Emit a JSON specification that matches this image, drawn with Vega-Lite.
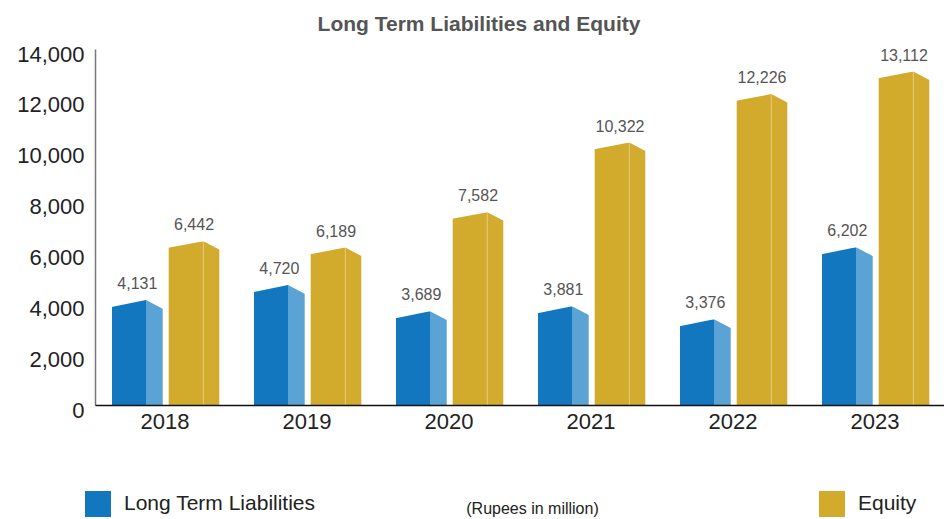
{
  "$schema": "https://vega.github.io/schema/vega-lite/v6.json",
  "width": 852,
  "height": 356,
  "autosize": "none",
  "padding": {"left": 95, "top": 49, "right": 0, "bottom": 114},
  "background": "white",
  "config": {
    "font": "Liberation Sans",
    "view": {"stroke": null}
  },
  "title": {
    "text": "Long Term Liabilities and Equity",
    "fontSize": 21,
    "fontWeight": "bold",
    "color": "#555555",
    "anchor": "middle",
    "frame": "group",
    "dx": -42,
    "baseline": "alphabetic",
    "offset": -9
  },
  "data": {
    "values": [
      {"year": "2018", "series": "Long Term Liabilities", "value": 4131},
      {"year": "2019", "series": "Long Term Liabilities", "value": 4720},
      {"year": "2020", "series": "Long Term Liabilities", "value": 3689},
      {"year": "2021", "series": "Long Term Liabilities", "value": 3881},
      {"year": "2022", "series": "Long Term Liabilities", "value": 3376},
      {"year": "2023", "series": "Long Term Liabilities", "value": 6202},
      {"year": "2018", "series": "Equity", "value": 6442},
      {"year": "2019", "series": "Equity", "value": 6189},
      {"year": "2020", "series": "Equity", "value": 7582},
      {"year": "2021", "series": "Equity", "value": 10322},
      {"year": "2022", "series": "Equity", "value": 12226},
      {"year": "2023", "series": "Equity", "value": 13112}
    ]
  },
  "encoding": {
    "y": {
      "field": "value",
      "type": "quantitative",
      "scale": {"domain": [0, 14000], "nice": false, "zero": true},
      "axis": {
        "title": null,
        "values": [0, 2000, 4000, 6000, 8000, 10000, 12000, 14000],
        "format": ",d",
        "formatType": "number",
        "grid": false,
        "ticks": false,
        "labelFontSize": 22,
        "labelColor": "#222222",
        "labelPadding": 11,
        "labelOffset": 5,
        "domainColor": "#777777",
        "domainWidth": 1.5
      }
    }
  },
  "layer": [
    {
      "transform": [{"filter": "datum.series === 'Long Term Liabilities'"}],
      "mark": {"type": "rect"},
      "encoding": {
        "x": {
          "field": "year",
          "type": "ordinal",
          "bandPosition": 0.1197,
          "scale": {"type": "band", "paddingInner": 0, "paddingOuter": 0},
          "axis": {
            "title": "(Rupees in million)",
            "titleFontSize": 16,
            "titleFontWeight": "normal",
            "titleColor": "#222222",
            "titleX": 437,
            "titleY": 103,
            "titleAlign": "center",
            "titleBaseline": "middle",
            "labelAngle": 0,
            "labelFontSize": 22,
            "labelColor": "#222222",
            "labelPadding": 6,
            "labelOffset": -1,
            "ticks": false,
            "domainColor": "#111111",
            "domainWidth": 1.5
          }
        },
        "x2": {"field": "year", "bandPosition": 0.3592},
        "y2": {"datum": 0},
        "color": {
          "field": "series",
          "type": "nominal",
          "scale": {"domain": ["Long Term Liabilities", "Equity"], "range": ["#1377bf", "#d2aa2c"]},
          "legend": {
            "title": null,
            "orient": "none",
            "legendX": -10,
            "legendY": 442,
            "direction": "horizontal",
            "symbolType": "square",
            "symbolSize": 676,
            "symbolStrokeWidth": 0,
            "symbolOpacity": 1,
            "labelFontSize": 21,
            "labelColor": "#222222",
            "labelOffset": 13,
            "labelLimit": 400,
            "columnPadding": 503
          }
        }
      }
    },
    {
      "transform": [{"filter": "datum.series === 'Long Term Liabilities'"}],
      "mark": {"type": "rect", "color": "#5ba3d5"},
      "encoding": {
        "x": {"field": "year", "type": "ordinal", "bandPosition": 0.3592},
        "x2": {"field": "year", "bandPosition": 0.4768},
        "y2": {"datum": 0}
      }
    },
    {
      "transform": [{"filter": "datum.series === 'Equity'"}],
      "mark": {"type": "rect"},
      "encoding": {
        "x": {"field": "year", "type": "ordinal", "bandPosition": 0.519},
        "x2": {"field": "year", "bandPosition": 0.7627},
        "y2": {"datum": 0},
        "color": {"field": "series", "type": "nominal"}
      }
    },
    {
      "transform": [{"filter": "datum.series === 'Equity'"}],
      "mark": {"type": "rect", "color": "#d3ab2e"},
      "encoding": {
        "x": {"field": "year", "type": "ordinal", "bandPosition": 0.7627},
        "x2": {"field": "year", "bandPosition": 0.8754},
        "y2": {"datum": 0}
      }
    },
    {
      "transform": [{"filter": "datum.series === 'Equity'"}],
      "mark": {"type": "rule", "color": "#e3c773", "strokeWidth": 1},
      "encoding": {
        "x": {"field": "year", "type": "ordinal", "bandPosition": 0.7627},
        "y2": {"datum": 0}
      }
    },
    {
      "transform": [{"filter": "datum.series === 'Long Term Liabilities'"}],
      "mark": {"type": "point", "shape": "M-1.1,-0.25 L1,-0.25 L1,0 L-1.1,0.43 Z", "size": 1156, "filled": true, "color": "white", "opacity": 1, "strokeWidth": 0},
      "encoding": {
        "x": {"field": "year", "type": "ordinal", "bandPosition": 0.2394}
      }
    },
    {
      "transform": [{"filter": "datum.series === 'Long Term Liabilities'"}],
      "mark": {"type": "point", "shape": "M-1,-0.5 L1.3,-0.5 L1.3,1.1 L1,1.05 L-1,0 Z", "size": 279, "filled": true, "color": "white", "opacity": 1, "strokeWidth": 0},
      "encoding": {
        "x": {"field": "year", "type": "ordinal", "bandPosition": 0.418}
      }
    },
    {
      "transform": [{"filter": "datum.series === 'Equity'"}],
      "mark": {"type": "point", "shape": "M-1.1,-0.25 L1,-0.25 L1,0 L-1.1,0.40 Z", "size": 1197, "filled": true, "color": "white", "opacity": 1, "strokeWidth": 0},
      "encoding": {
        "x": {"field": "year", "type": "ordinal", "bandPosition": 0.6409}
      }
    },
    {
      "transform": [{"filter": "datum.series === 'Equity'"}],
      "mark": {"type": "point", "shape": "M-1,-0.5 L1.3,-0.5 L1.3,1.1 L1,1.05 L-1,0 Z", "size": 256, "filled": true, "color": "white", "opacity": 1, "strokeWidth": 0},
      "encoding": {
        "x": {"field": "year", "type": "ordinal", "bandPosition": 0.819}
      }
    },
    {
      "transform": [{"filter": "datum.series === 'Long Term Liabilities'"}],
      "mark": {"type": "text", "fontSize": 16, "color": "#555555", "baseline": "alphabetic", "dy": -11},
      "encoding": {
        "x": {"field": "year", "type": "ordinal", "bandPosition": 0.2982},
        "text": {"field": "value", "type": "quantitative", "format": ","}
      }
    },
    {
      "transform": [{"filter": "datum.series === 'Equity'"}],
      "mark": {"type": "text", "fontSize": 16, "color": "#555555", "baseline": "alphabetic", "dy": -11},
      "encoding": {
        "x": {"field": "year", "type": "ordinal", "bandPosition": 0.6972},
        "text": {"field": "value", "type": "quantitative", "format": ","}
      }
    }
  ]
}
